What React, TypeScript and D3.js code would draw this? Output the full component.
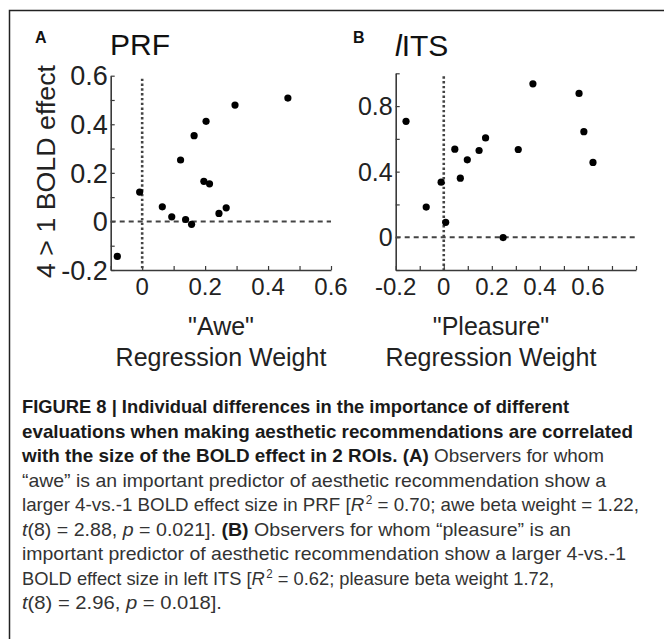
import { useRef, useEffect } from 'react';
import * as d3 from 'd3';

// panel A: "Awe" regression weight vs 4 > 1 BOLD effect in PRF
const aweX = [-0.079, -0.008, 0.064, 0.094, 0.122, 0.138, 0.157, 0.165, 0.196, 0.203, 0.214, 0.244, 0.267, 0.295, 0.463];
const aweY = [-0.144, 0.121, 0.06, 0.019, 0.253, 0.008, -0.012, 0.353, 0.165, 0.412, 0.155, 0.033, 0.056, 0.479, 0.508];

// panel B: "Pleasure" regression weight vs 4 > 1 BOLD effect in left ITS
const pleasureX = [-0.157, -0.073, -0.011, 0.008, 0.046, 0.069, 0.098, 0.147, 0.174, 0.247, 0.31, 0.371, 0.563, 0.583, 0.621];
const pleasureY = [0.707, 0.184, 0.336, 0.091, 0.537, 0.36, 0.472, 0.529, 0.606, -0.002, 0.535, 0.936, 0.877, 0.644, 0.456];

const aweXTicks = [0, 0.2, 0.4, 0.6];
const aweYTicks = [-0.2, 0, 0.2, 0.4, 0.6];
const pleasureXTicks = [-0.2, 0, 0.2, 0.4, 0.6];
const pleasureYTicks = [0, 0.4, 0.8];

type Seg = { t: string; s?: 'b' | 'i' | 'sup' };
const caption: { segs: Seg[]; w: number }[] = [
    { segs: [{ t: 'FIGURE 8 | Individual differences in the importance of different', s: 'b' }], w: 547 },
    { segs: [{ t: 'evaluations when making aesthetic recommendations are correlated', s: 'b' }], w: 611 },
    { segs: [{ t: 'with the size of the BOLD effect in 2 ROIs. (A)', s: 'b' }, { t: ' Observers for whom' }], w: 582 },
    { segs: [{ t: '\u201cawe\u201d is an important predictor of aesthetic recommendation show a' }], w: 584 },
    { segs: [{ t: 'larger 4-vs.-1 BOLD effect size in PRF [' }, { t: 'R', s: 'i' }, { t: '2', s: 'sup' }, { t: ' = 0.70; awe beta weight = 1.22,' }], w: 617 },
    { segs: [{ t: 't', s: 'i' }, { t: '(8) = 2.88, ' }, { t: 'p', s: 'i' }, { t: ' = 0.021]. ' }, { t: '(B)', s: 'b' }, { t: ' Observers for whom \u201cpleasure\u201d is an' }], w: 549 },
    { segs: [{ t: 'important predictor of aesthetic recommendation show a larger 4-vs.-1' }], w: 604 },
    { segs: [{ t: 'BOLD effect size in left ITS [' }, { t: 'R', s: 'i' }, { t: '2', s: 'sup' }, { t: ' = 0.62; pleasure beta weight 1.72,' }], w: 532 },
    { segs: [{ t: 't', s: 'i' }, { t: '(8) = 2.96, ' }, { t: 'p', s: 'i' }, { t: ' = 0.018].' }], w: 200 },
];

const FONT = '"Liberation Sans", Arial, sans-serif';
const AXIS = '#3a3a3a';

interface PanelCfg {
    xs: number[];
    ys: number[];
    xDomain: [number, number];
    yDomain: [number, number];
    xRange: [number, number];
    yRange: [number, number];
    xMinor: number;
    yMinor: number;
    xTicks: number[];
    yTicks: number[];
    yFont: number;
}

// plain hyphen for negatives, bare "0"
const fmt = (d: number) => (d === 0 ? '0' : d3.format('.1f')(d).replace('\u2212', '-'));

function drawPanel(svg: d3.Selection<SVGSVGElement, unknown, null, undefined>, c: PanelCfg) {
    const x = d3.scaleLinear().domain(c.xDomain).range(c.xRange);
    const y = d3.scaleLinear().domain(c.yDomain).range(c.yRange);
    const g = svg.append('g');

    // minor ticks (inside)
    const xm = d3.range(Math.round(c.xDomain[0] / c.xMinor), Math.round(c.xDomain[1] / c.xMinor) + 1).map(i => i * c.xMinor);
    const ym = d3.range(Math.round(c.yDomain[0] / c.yMinor), Math.round(c.yDomain[1] / c.yMinor) + 1).map(i => i * c.yMinor);

    const xAxis = g.append('g')
        .attr('transform', `translate(0,${c.yRange[0]})`)
        .call(d3.axisBottom(x).tickValues(xm).tickSize(-4).tickSizeOuter(0).tickFormat(() => ''));
    const yAxis = g.append('g')
        .attr('transform', `translate(${c.xRange[0]},0)`)
        .call(d3.axisLeft(y).tickValues(ym).tickSize(-4).tickSizeOuter(0).tickFormat(() => ''));
    [xAxis, yAxis].forEach(a => {
        a.select('.domain').attr('stroke', AXIS).attr('stroke-width', 1.6);
        a.selectAll('.tick line').attr('stroke', AXIS).attr('stroke-width', 1.2);
    });

    // tick labels
    g.selectAll('.xl').data(c.xTicks).enter().append('text')
        .attr('x', d => x(d))
        .attr('y', c.yRange[0] + 25)
        .attr('text-anchor', 'middle')
        .attr('font-family', FONT)
        .attr('font-size', 24)
        .attr('fill', '#222')
        .text(fmt);
    g.selectAll('.yl').data(c.yTicks).enter().append('text')
        .attr('x', c.xRange[0] - 3)
        .attr('y', d => y(d))
        .attr('dy', '0.36em')
        .attr('text-anchor', 'end')
        .attr('font-family', FONT)
        .attr('font-size', c.yFont)
        .attr('fill', '#222')
        .text(fmt);

    // zero reference lines
    g.append('line')
        .attr('x1', x(0)).attr('x2', x(0))
        .attr('y1', c.yRange[1] + 3).attr('y2', c.yRange[0])
        .attr('stroke', '#444').attr('stroke-width', 2.6).attr('stroke-dasharray', '2.4,2.4');
    g.append('line')
        .attr('x1', c.xRange[0]).attr('x2', c.xRange[1])
        .attr('y1', y(0)).attr('y2', y(0))
        .attr('stroke', '#444').attr('stroke-width', 2).attr('stroke-dasharray', '5,4');

    // points
    g.selectAll('circle').data(c.xs).enter().append('circle')
        .attr('cx', d => x(d))
        .attr('cy', (_, i) => y(c.ys[i]))
        .attr('r', 3.6)
        .attr('fill', '#000');
}

export default function App() {
    const svgRef = useRef<SVGSVGElement | null>(null);

    useEffect(() => {
        if (!svgRef.current) return;
        const svg = d3.select(svgRef.current);
        svg.selectAll('*').remove();

        svg.append('rect').attr('width', 668).attr('height', 639).attr('fill', '#fff');

        // frame (top and left only)
        svg.append('path')
            .attr('d', 'M9.5,639 L9.5,10.5 L664,10.5')
            .attr('fill', 'none').attr('stroke', '#222').attr('stroke-width', 1.5);

        drawPanel(svg, {
            xs: aweX, ys: aweY,
            xDomain: [-0.1, 0.6], yDomain: [-0.2, 0.6],
            xRange: [110.7, 331], yRange: [270, 75.7],
            xMinor: 0.1, yMinor: 0.1,
            xTicks: aweXTicks, yTicks: aweYTicks, yFont: 27,
        });
        drawPanel(svg, {
            xs: pleasureX, ys: pleasureY,
            xDomain: [-0.2, 0.8], yDomain: [-0.2, 1.0],
            xRange: [395.7, 636], yRange: [270, 73.3],
            xMinor: 0.1, yMinor: 0.2,
            xTicks: pleasureXTicks, yTicks: pleasureYTicks, yFont: 25,
        });

        // panel letters & titles
        const txt = (x: number, y: number, s: number, w: string | number, t: string) =>
            svg.append('text').attr('x', x).attr('y', y).attr('font-family', FONT)
                .attr('font-size', s).attr('font-weight', w).attr('fill', '#111').text(t);
        txt(35, 43, 16, 'bold', 'A');
        txt(353, 43, 16, 'bold', 'B');
        txt(110, 55, 30, 'normal', 'PRF');
        const its = svg.append('text').attr('x', 395).attr('y', 56).attr('font-family', FONT)
            .attr('font-size', 30).attr('fill', '#111');
        its.append('tspan').attr('font-style', 'italic').text('l');
        its.append('tspan').text('ITS');

        // y axis label
        svg.append('text')
            .attr('transform', 'translate(55,171.5) rotate(-90)')
            .attr('text-anchor', 'middle')
            .attr('font-family', FONT)
            .attr('font-size', 25)
            .attr('textLength', 213)
            .attr('lengthAdjust', 'spacingAndGlyphs')
            .attr('fill', '#222')
            .text('4 > 1 BOLD effect');

        // x axis labels
        [
            { cx: 221, lines: ['"Awe"', 'Regression Weight'] },
            { cx: 491, lines: ['"Pleasure"', 'Regression Weight'] },
        ].forEach(l => {
            l.lines.forEach((t, i) => {
                svg.append('text')
                    .attr('x', l.cx).attr('y', 335 + i * 31)
                    .attr('text-anchor', 'middle')
                    .attr('font-family', FONT)
                    .attr('font-size', 25)
                    .attr('fill', '#222')
                    .text(t);
            });
        });

        // caption
        caption.forEach((line, i) => {
            const t = svg.append('text')
                .attr('x', 22).attr('y', 413 + i * 24.5)
                .attr('font-family', FONT)
                .attr('font-size', 19)
                .attr('fill', '#333')
                .attr('textLength', line.w)
                .attr('lengthAdjust', 'spacingAndGlyphs');
            line.segs.forEach(sg => {
                const ts = t.append('tspan').text(sg.t);
                if (sg.s === 'b') ts.attr('font-weight', 'bold').attr('fill', '#1a1a1a');
                if (sg.s === 'i') ts.attr('font-style', 'italic');
                if (sg.s === 'sup') ts.attr('font-size', 12).attr('dx', 1.5).attr('baseline-shift', '60%');
            });
        });
    }, []);

    return (
        <div style={{ position: 'absolute', left: 0, top: 0 }}>
            <svg ref={svgRef} width={668} height={639} style={{ display: 'block' }} />
        </div>
    );
}
